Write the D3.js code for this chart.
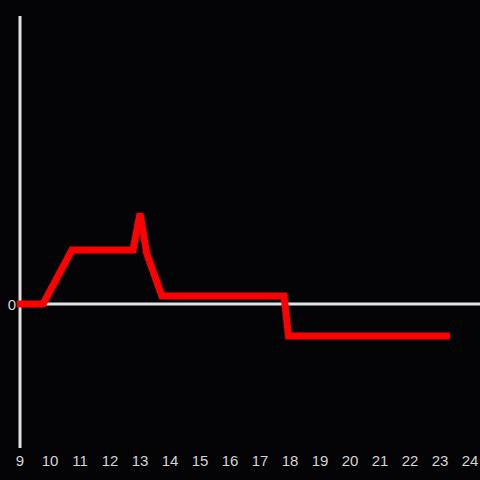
<!DOCTYPE html>
<html lang="en">
<head>
    <meta charset="UTF-8" />
    <title>Line chart</title>
    <script src="https://d3js.org/d3.v7.min.js"></script>
    <style>
        body {
            margin: 0;
            background: #040406;
            overflow: hidden;
            font-family: Arial, "Liberation Sans", sans-serif;
        }
        .tick-label {
            fill: #d4d4d4;
            font-size: 15px;
        }
    </style>
</head>
<body>
    <script>
        // data
        const hours = [8.9, 9.77, 10.73, 12.77, 13.0, 13.22, 13.73, 17.8, 17.95, 23.33];
        const values = [0, 0, 0.375, 0.375, 0.63, 0.354, 0.056, 0.056, -0.222, -0.222];
        const xTicks = [9, 10, 11, 12, 13, 14, 15, 16, 17, 18, 19, 20, 21, 22, 23, 24];
        const yTicks = [0];

        const width = 480;
        const height = 480;

        const svg = d3.select('body').append('svg')
            .attr('width', width)
            .attr('height', height);

        svg.append('rect')
            .attr('width', width)
            .attr('height', height)
            .attr('fill', '#040406');

        const x = d3.scaleLinear().domain([9, 24]).range([20, 470]);
        const y = d3.scaleLinear().domain([-1, 2]).range([448, 16]);

        // y axis line
        svg.append('line')
            .attr('x1', x(9)).attr('x2', x(9))
            .attr('y1', y(2)).attr('y2', y(-1))
            .attr('stroke', '#e2e2e2')
            .attr('stroke-width', 3);

        // zero line
        svg.append('line')
            .attr('x1', x(9)).attr('x2', width)
            .attr('y1', y(0)).attr('y2', y(0))
            .attr('stroke', '#e2e2e2')
            .attr('stroke-width', 3);

        // x tick labels
        svg.selectAll('.xlab')
            .data(xTicks)
            .enter()
            .append('text')
            .attr('class', 'tick-label')
            .attr('x', (d) => x(d))
            .attr('y', 466)
            .attr('text-anchor', 'middle')
            .text((d) => d);

        // y tick labels
        svg.selectAll('.ylab')
            .data(yTicks)
            .enter()
            .append('text')
            .attr('class', 'tick-label')
            .attr('x', 16)
            .attr('y', (d) => y(d) + 6)
            .attr('text-anchor', 'end')
            .text((d) => d);

        // data line
        const line = d3.line()
            .x((d, i) => x(hours[i]))
            .y((d) => y(d));

        svg.append('path')
            .datum(values)
            .attr('d', line)
            .attr('fill', 'none')
            .attr('stroke', '#ff0000')
            .attr('stroke-width', 7)
            .attr('stroke-linejoin', 'miter');
    </script>
</body>
</html>
